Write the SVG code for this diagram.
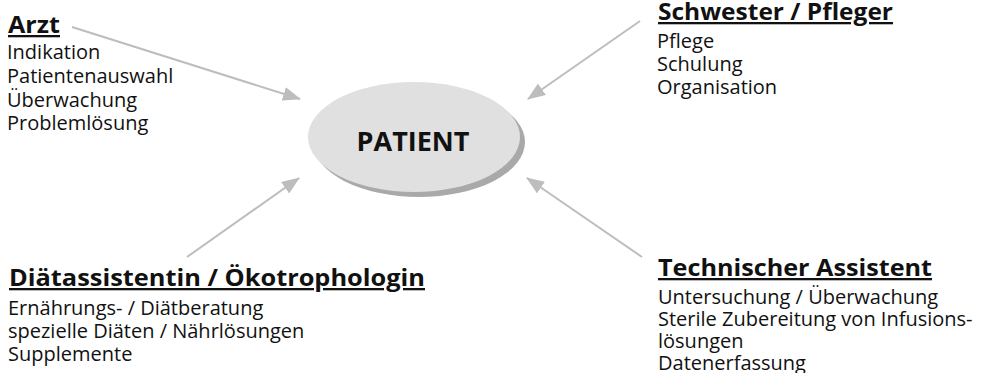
<svg xmlns="http://www.w3.org/2000/svg" width="986" height="373" viewBox="0 0 986 373">
<defs>
<style>
.t{font-family:"Open Sans","Noto Sans","DejaVu Sans",sans-serif;font-size:20px;fill:#111}
.h{font-family:"Open Sans","Noto Sans","DejaVu Sans",sans-serif;font-size:23px;font-weight:700;fill:#111;text-decoration:underline}
.c{stroke:#bdbdbe;stroke-width:2;fill:none;marker-end:url(#ah)}
</style>
<marker id="ah" markerUnits="userSpaceOnUse" markerWidth="18" markerHeight="14" refX="17" refY="7" orient="auto">
<path d="M0,0 L18,7 L0,14 z" fill="#bdbdbe"/>
</marker>
</defs>
<rect width="986" height="373" fill="#fff"/>
<g id="connectors">
<line class="c" x1="72" y1="27" x2="300" y2="99"/>
<line class="c" x1="640" y1="21" x2="528" y2="99"/>
<line class="c" x1="187" y1="257" x2="299" y2="178"/>
<line class="c" x1="642" y1="257" x2="527" y2="178"/>
</g>
<g id="patient">
<ellipse cx="419" cy="142" rx="106" ry="55" fill="#a9a9aa"/>
<ellipse cx="414" cy="137" rx="106" ry="55" fill="#e0e0e1"/>
<text x="413" y="151" text-anchor="middle" style="font-family:'Open Sans','Noto Sans',sans-serif;font-size:27px;font-weight:700;fill:#111">PATIENT</text>
</g>
<g id="arzt">
<text class="h" x="8" y="33" textLength="52" lengthAdjust="spacingAndGlyphs">Arzt</text>
<text class="t" x="7" y="59">Indikation</text>
<text class="t" x="7" y="82.5">Patientenauswahl</text>
<text class="t" x="7" y="106.5">Überwachung</text>
<text class="t" x="7" y="130">Problemlösung</text>
</g>
<g id="schwester">
<text class="h" x="658" y="20" textLength="235" lengthAdjust="spacingAndGlyphs">Schwester / Pfleger</text>
<text class="t" x="657" y="48">Pflege</text>
<text class="t" x="657" y="71">Schulung</text>
<text class="t" x="657" y="94">Organisation</text>
</g>
<g id="diaet">
<text class="h" x="9" y="286" textLength="416" lengthAdjust="spacingAndGlyphs">Diätassistentin / Ökotrophologin</text>
<text class="t" x="8" y="315">Ernährungs- / Diätberatung</text>
<text class="t" x="8" y="338">spezielle Diäten / Nährlösungen</text>
<text class="t" x="8" y="360.5">Supplemente</text>
</g>
<g id="technik">
<text class="h" x="658" y="276" textLength="274" lengthAdjust="spacingAndGlyphs">Technischer Assistent</text>
<text class="t" x="658" y="304">Untersuchung / Überwachung</text>
<text class="t" x="658" y="326">Sterile Zubereitung von Infusions-</text>
<text class="t" x="658" y="348">lösungen</text>
<text class="t" x="658" y="370">Datenerfassung</text>
</g>
</svg>
